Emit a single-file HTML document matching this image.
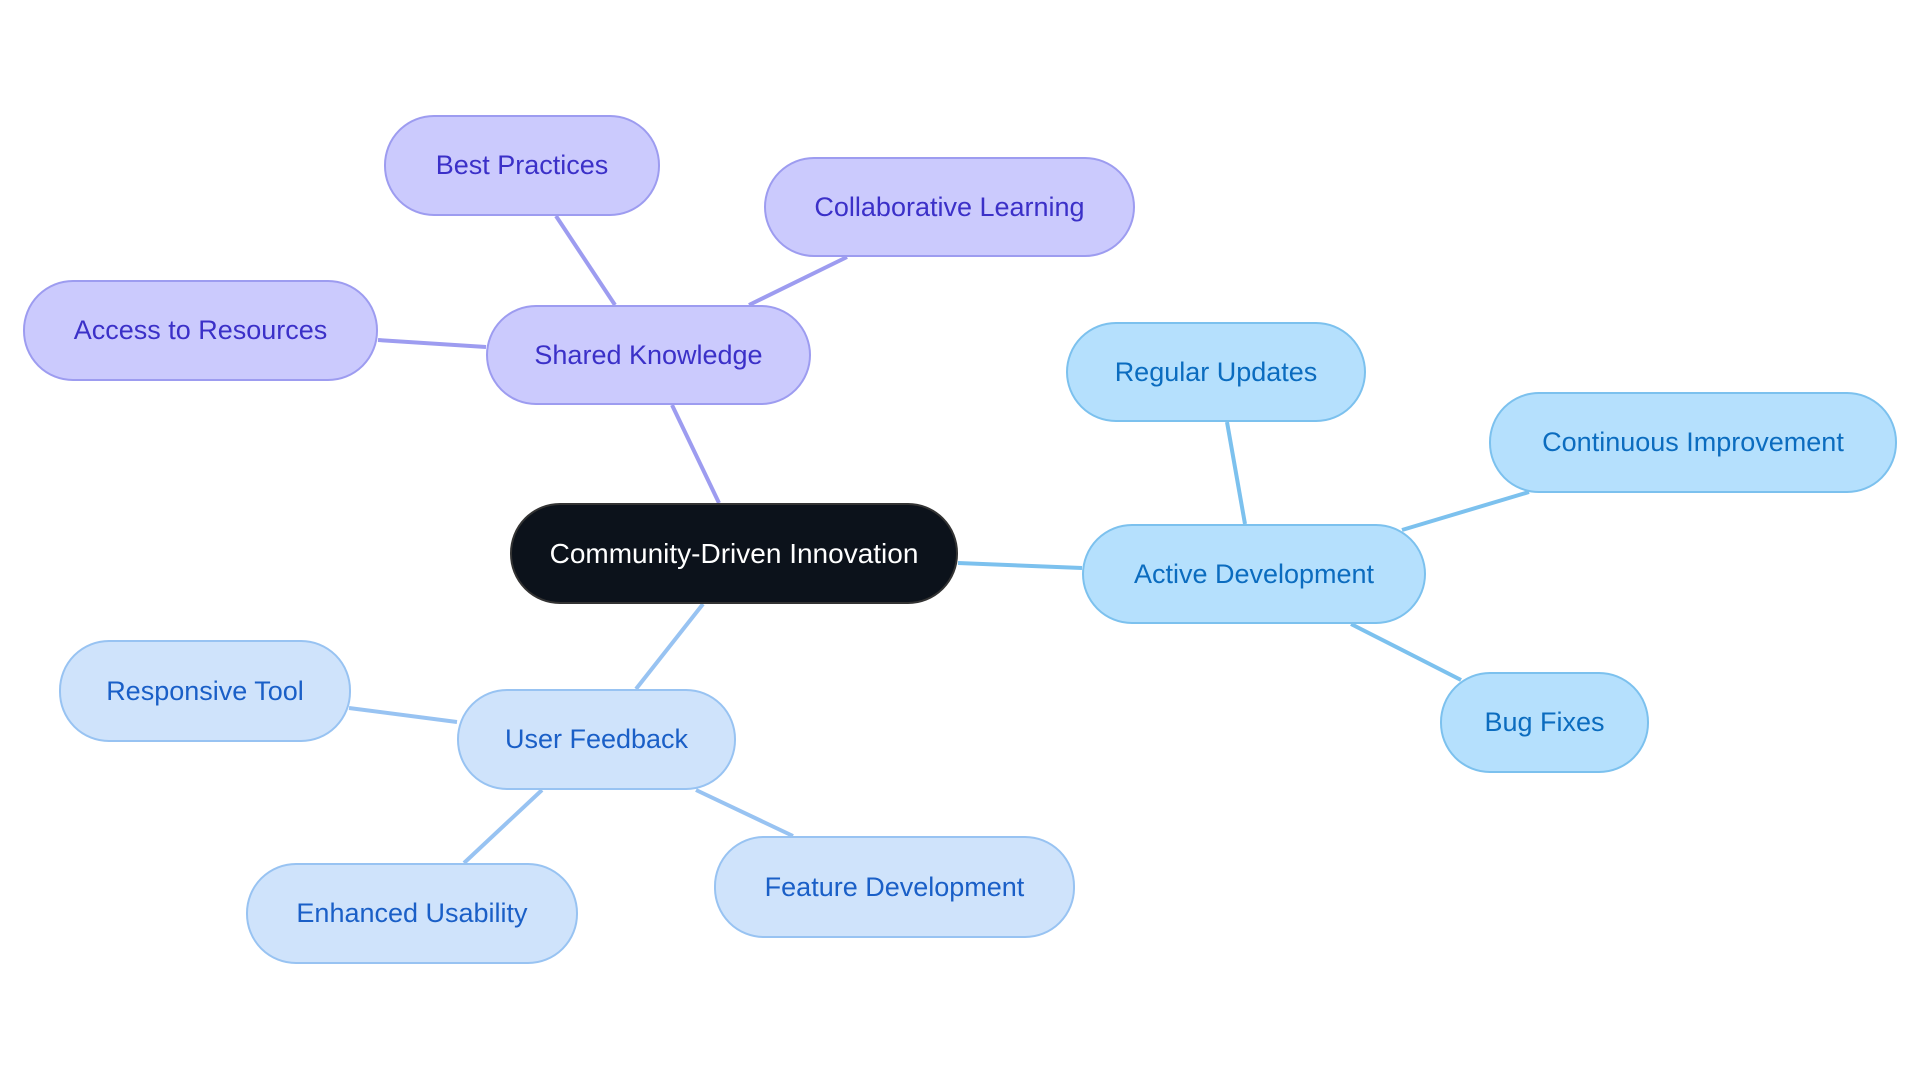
<!DOCTYPE html>
<html><head><meta charset="utf-8"><style>
body{margin:0;width:1920px;height:1083px;background:#fff;position:relative;overflow:hidden;font-family:"Liberation Sans",sans-serif}
.n{position:absolute;box-sizing:border-box;border-radius:50px;display:flex;align-items:center;justify-content:center;font-size:27px;white-space:nowrap;border:2px solid}
.p{background:#cbcafd;border-color:#9d9cf0;color:#3b30c8}
.c{background:#b5e0fd;border-color:#7cc1ee;color:#0b6cbf}
.u{background:#cfe3fb;border-color:#98c3f2;color:#1a5fc7}
svg{position:absolute;left:0;top:0}
</style></head><body>
<svg width="1920" height="1083">
<g stroke-width="4" fill="none">
<g stroke="#9d9cf0">
<line x1="719" y1="503" x2="672" y2="405"/>
<line x1="615" y1="305" x2="556" y2="216"/>
<line x1="749" y1="305" x2="847" y2="257"/>
<line x1="486" y1="347" x2="378" y2="340"/>
</g>
<g stroke="#7cc1ee">
<line x1="958" y1="563" x2="1082" y2="568"/>
<line x1="1245" y1="524" x2="1227" y2="422"/>
<line x1="1402" y1="530" x2="1529" y2="492"/>
<line x1="1351" y1="624" x2="1461" y2="680"/>
</g>
<g stroke="#98c3f2">
<line x1="703" y1="604" x2="636" y2="689"/>
<line x1="457" y1="722" x2="349" y2="708"/>
<line x1="542" y1="790" x2="464" y2="863"/>
<line x1="696" y1="790" x2="793" y2="836"/>
</g>
</g>
</svg>
<div class="n" style="left:510px;top:503px;width:448px;height:101px;background:#0c121b;border-color:#333;color:#fff;font-size:28px">Community-Driven Innovation</div>
<div class="n p" style="left:486px;top:305px;width:325px;height:100px">Shared Knowledge</div>
<div class="n p" style="left:384px;top:115px;width:276px;height:101px">Best Practices</div>
<div class="n p" style="left:764px;top:157px;width:371px;height:100px">Collaborative Learning</div>
<div class="n p" style="left:23px;top:280px;width:355px;height:101px">Access to Resources</div>
<div class="n c" style="left:1082px;top:524px;width:344px;height:100px">Active Development</div>
<div class="n c" style="left:1066px;top:322px;width:300px;height:100px">Regular Updates</div>
<div class="n c" style="left:1489px;top:392px;width:408px;height:101px">Continuous Improvement</div>
<div class="n c" style="left:1440px;top:672px;width:209px;height:101px">Bug Fixes</div>
<div class="n u" style="left:457px;top:689px;width:279px;height:101px">User Feedback</div>
<div class="n u" style="left:59px;top:640px;width:292px;height:102px">Responsive Tool</div>
<div class="n u" style="left:246px;top:863px;width:332px;height:101px">Enhanced Usability</div>
<div class="n u" style="left:714px;top:836px;width:361px;height:102px">Feature Development</div>
</body></html>
